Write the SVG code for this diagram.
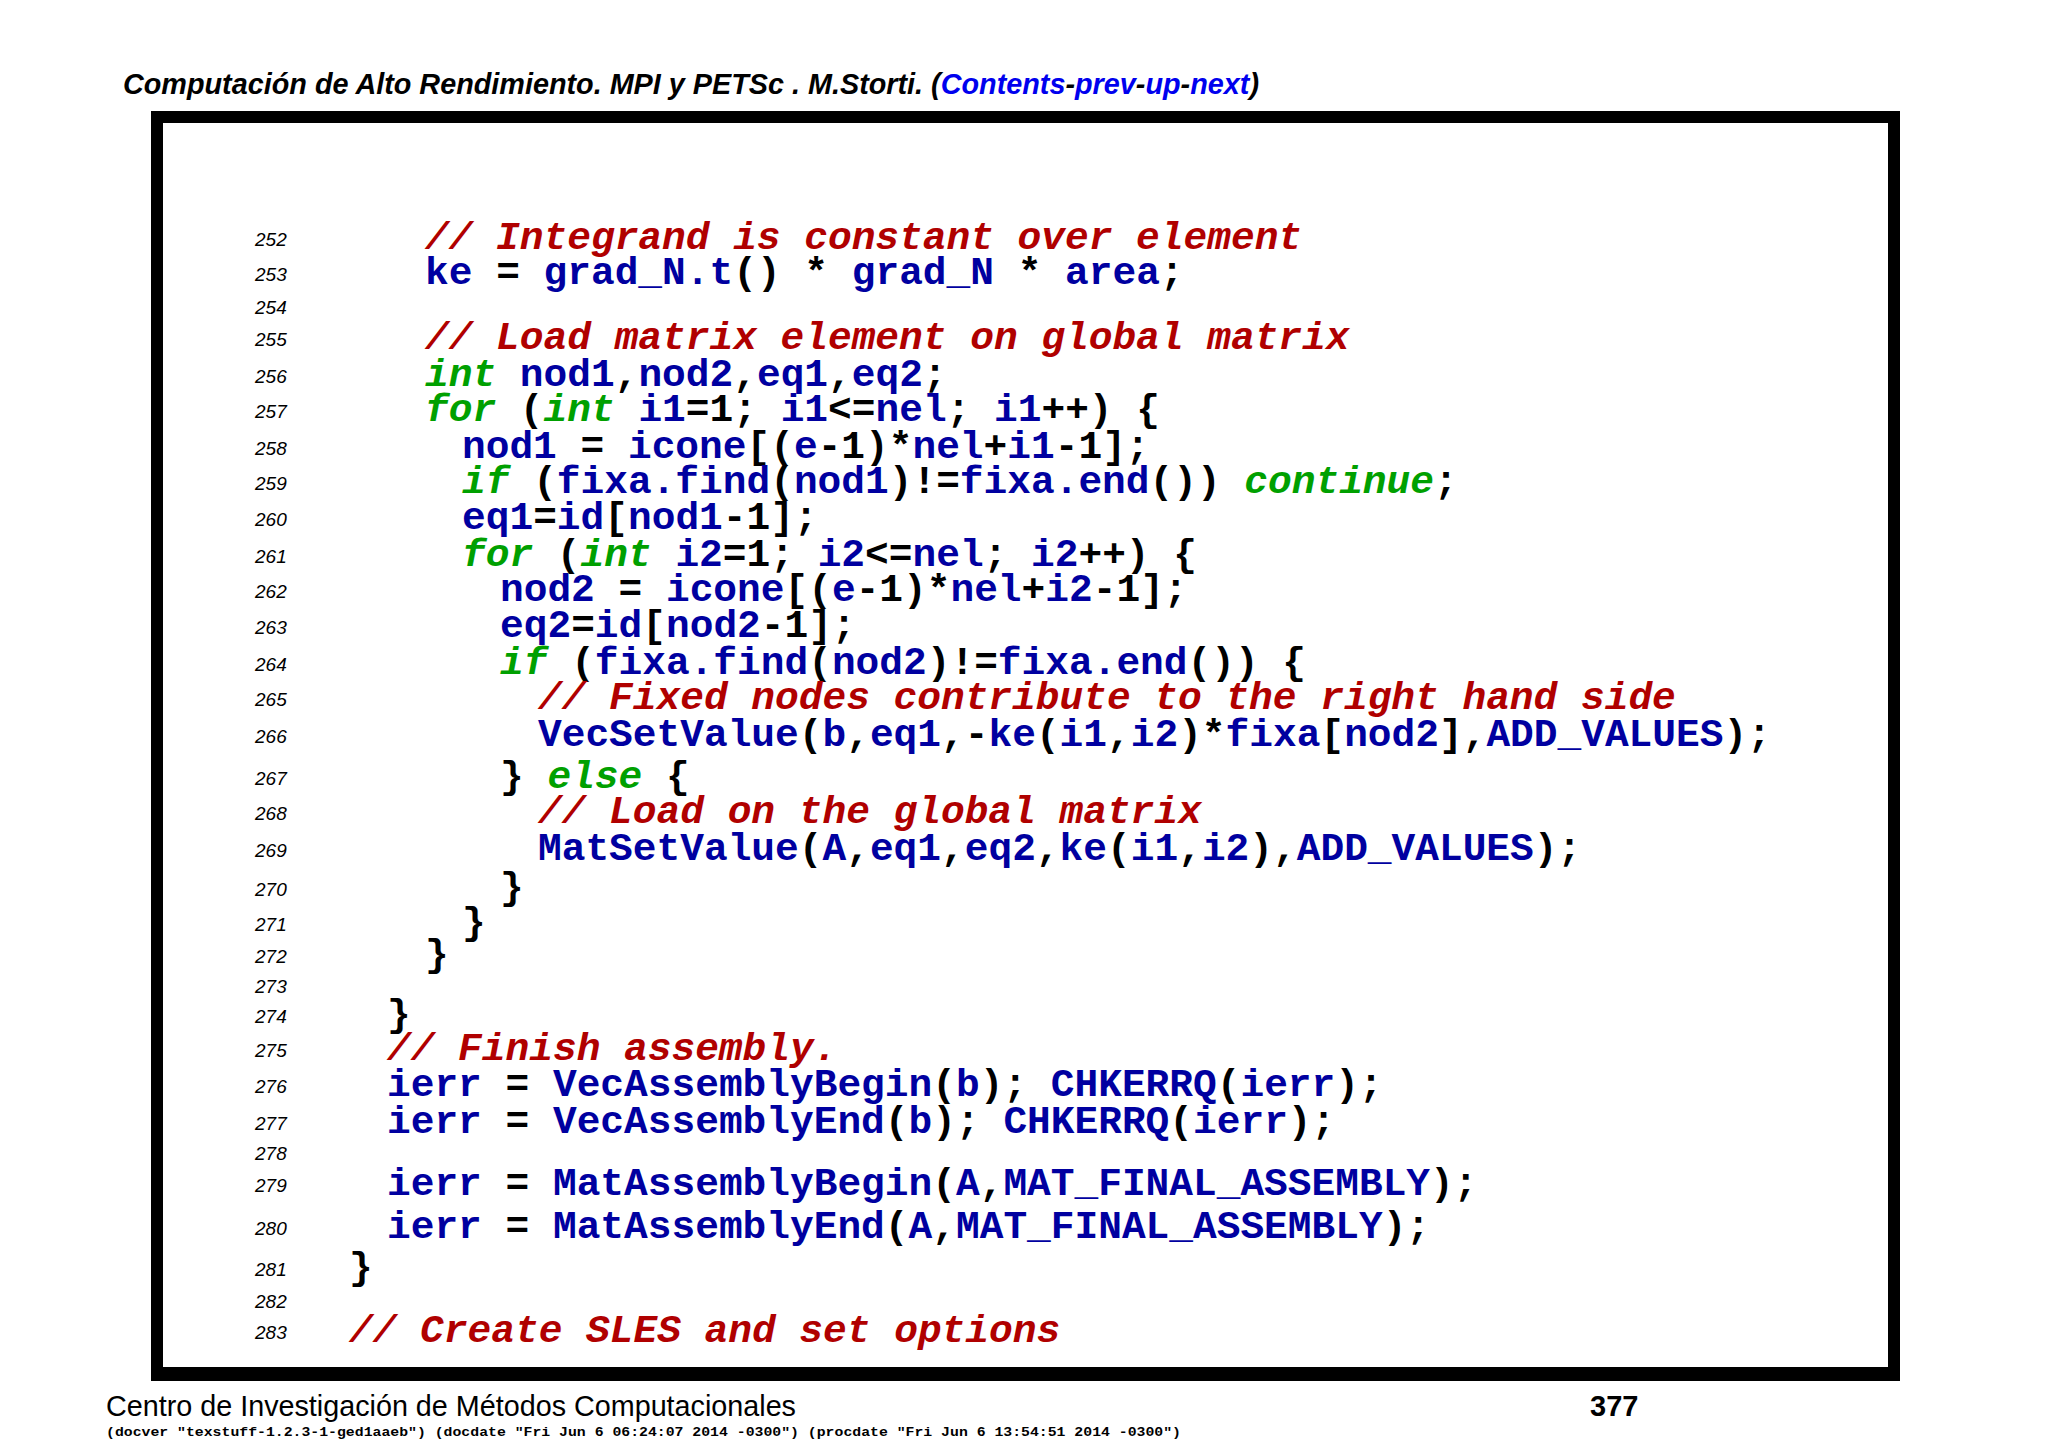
<svg xmlns="http://www.w3.org/2000/svg" width="2048" height="1448" viewBox="0 0 2048 1448">
<style>
.code{font-family:"Liberation Mono","DejaVu Sans Mono",monospace;font-size:39.5px;font-weight:bold;fill:#000;white-space:pre}
.c{fill:#b00000;font-style:italic}
.k{fill:#00a000;font-style:italic}
.v{fill:#0000a0}
.n{font-family:"Liberation Sans",Arial,sans-serif;font-size:19px;font-style:italic;fill:#000}
.hd{font-family:"Liberation Sans",Arial,sans-serif;font-size:29px;font-weight:bold;font-style:italic;fill:#000}
.b{fill:#0000ee}
</style>
<rect width="2048" height="1448" fill="#fff"/>
<g id="header"><text class="hd" x="123" y="94" textLength="1136" lengthAdjust="spacingAndGlyphs">Computación de Alto Rendimiento. MPI y PETSc . M.Storti. (<tspan class="b">Contents</tspan>-<tspan class="b">prev</tspan>-<tspan class="b">up</tspan>-<tspan class="b">next</tspan>)</text></g>
<g id="frame"><rect x="157" y="117" width="1737" height="1256" fill="none" stroke="#000" stroke-width="12"/><line x1="151" y1="1378" x2="1900" y2="1378" stroke="#000" stroke-width="6"/></g>
<g id="linenumbers">
<text class="n" x="255" y="246">252</text><text class="n" x="255" y="281">253</text><text class="n" x="255" y="314">254</text><text class="n" x="255" y="346">255</text><text class="n" x="255" y="383">256</text><text class="n" x="255" y="418">257</text><text class="n" x="255" y="455">258</text><text class="n" x="255" y="490">259</text><text class="n" x="255" y="526">260</text><text class="n" x="255" y="563">261</text><text class="n" x="255" y="598">262</text><text class="n" x="255" y="634">263</text><text class="n" x="255" y="671">264</text><text class="n" x="255" y="706">265</text><text class="n" x="255" y="743">266</text><text class="n" x="255" y="785">267</text><text class="n" x="255" y="820">268</text><text class="n" x="255" y="857">269</text><text class="n" x="255" y="896">270</text><text class="n" x="255" y="931">271</text><text class="n" x="255" y="963">272</text><text class="n" x="255" y="993">273</text><text class="n" x="255" y="1023">274</text><text class="n" x="255" y="1057">275</text><text class="n" x="255" y="1093">276</text><text class="n" x="255" y="1130">277</text><text class="n" x="255" y="1160">278</text><text class="n" x="255" y="1192">279</text><text class="n" x="255" y="1235">280</text><text class="n" x="255" y="1276">281</text><text class="n" x="255" y="1308">282</text><text class="n" x="255" y="1339">283</text>
</g>
<g id="code">
<text class="code" x="425" y="249"><tspan class="c">// Integrand is constant over element</tspan></text>
<text class="code" x="425" y="284"><tspan class="v">ke</tspan> = <tspan class="v">grad_N.t</tspan>() * <tspan class="v">grad_N</tspan> * <tspan class="v">area</tspan>;</text>
<text class="code" x="425" y="349"><tspan class="c">// Load matrix element on global matrix</tspan></text>
<text class="code" x="425" y="386"><tspan class="k">int</tspan> <tspan class="v">nod1</tspan>,<tspan class="v">nod2</tspan>,<tspan class="v">eq1</tspan>,<tspan class="v">eq2</tspan>;</text>
<text class="code" x="425" y="421"><tspan class="k">for</tspan> (<tspan class="k">int</tspan> <tspan class="v">i1</tspan>=1; <tspan class="v">i1</tspan>&lt;=<tspan class="v">nel</tspan>; <tspan class="v">i1</tspan>++) {</text>
<text class="code" x="462" y="458"><tspan class="v">nod1</tspan> = <tspan class="v">icone</tspan>[(<tspan class="v">e</tspan>-1)*<tspan class="v">nel</tspan>+<tspan class="v">i1</tspan>-1];</text>
<text class="code" x="462" y="493"><tspan class="k">if</tspan> (<tspan class="v">fixa.find</tspan>(<tspan class="v">nod1</tspan>)!=<tspan class="v">fixa.end</tspan>()) <tspan class="k">continue</tspan>;</text>
<text class="code" x="462" y="529"><tspan class="v">eq1</tspan>=<tspan class="v">id</tspan>[<tspan class="v">nod1</tspan>-1];</text>
<text class="code" x="462" y="566"><tspan class="k">for</tspan> (<tspan class="k">int</tspan> <tspan class="v">i2</tspan>=1; <tspan class="v">i2</tspan>&lt;=<tspan class="v">nel</tspan>; <tspan class="v">i2</tspan>++) {</text>
<text class="code" x="500" y="601"><tspan class="v">nod2</tspan> = <tspan class="v">icone</tspan>[(<tspan class="v">e</tspan>-1)*<tspan class="v">nel</tspan>+<tspan class="v">i2</tspan>-1];</text>
<text class="code" x="500" y="637"><tspan class="v">eq2</tspan>=<tspan class="v">id</tspan>[<tspan class="v">nod2</tspan>-1];</text>
<text class="code" x="500" y="674"><tspan class="k">if</tspan> (<tspan class="v">fixa.find</tspan>(<tspan class="v">nod2</tspan>)!=<tspan class="v">fixa.end</tspan>()) {</text>
<text class="code" x="538" y="709"><tspan class="c">// Fixed nodes contribute to the right hand side</tspan></text>
<text class="code" x="538" y="746"><tspan class="v">VecSetValue</tspan>(<tspan class="v">b</tspan>,<tspan class="v">eq1</tspan>,-<tspan class="v">ke</tspan>(<tspan class="v">i1</tspan>,<tspan class="v">i2</tspan>)*<tspan class="v">fixa</tspan>[<tspan class="v">nod2</tspan>],<tspan class="v">ADD_VALUES</tspan>);</text>
<text class="code" x="500" y="788">} <tspan class="k">else</tspan> {</text>
<text class="code" x="538" y="823"><tspan class="c">// Load on the global matrix</tspan></text>
<text class="code" x="538" y="860"><tspan class="v">MatSetValue</tspan>(<tspan class="v">A</tspan>,<tspan class="v">eq1</tspan>,<tspan class="v">eq2</tspan>,<tspan class="v">ke</tspan>(<tspan class="v">i1</tspan>,<tspan class="v">i2</tspan>),<tspan class="v">ADD_VALUES</tspan>);</text>
<text class="code" x="500" y="899">}</text>
<text class="code" x="462" y="934">}</text>
<text class="code" x="425" y="966">}</text>
<text class="code" x="387" y="1026">}</text>
<text class="code" x="387" y="1060"><tspan class="c">// Finish assembly.</tspan></text>
<text class="code" x="387" y="1096"><tspan class="v">ierr</tspan> = <tspan class="v">VecAssemblyBegin</tspan>(<tspan class="v">b</tspan>); <tspan class="v">CHKERRQ</tspan>(<tspan class="v">ierr</tspan>);</text>
<text class="code" x="387" y="1133"><tspan class="v">ierr</tspan> = <tspan class="v">VecAssemblyEnd</tspan>(<tspan class="v">b</tspan>); <tspan class="v">CHKERRQ</tspan>(<tspan class="v">ierr</tspan>);</text>
<text class="code" x="387" y="1195"><tspan class="v">ierr</tspan> = <tspan class="v">MatAssemblyBegin</tspan>(<tspan class="v">A</tspan>,<tspan class="v">MAT_FINAL_ASSEMBLY</tspan>);</text>
<text class="code" x="387" y="1238"><tspan class="v">ierr</tspan> = <tspan class="v">MatAssemblyEnd</tspan>(<tspan class="v">A</tspan>,<tspan class="v">MAT_FINAL_ASSEMBLY</tspan>);</text>
<text class="code" x="349" y="1279">}</text>
<text class="code" x="349" y="1342"><tspan class="c">// Create SLES and set options</tspan></text>
</g>
<g id="footer">
<text x="106" y="1416" font-family="Liberation Sans,Arial,sans-serif" font-size="29" textLength="690" lengthAdjust="spacingAndGlyphs">Centro de Investigación de Métodos Computacionales</text>
<text x="1590" y="1416" font-family="Liberation Sans,Arial,sans-serif" font-size="29" font-weight="bold">377</text>
<text x="106" y="1436" font-family="Liberation Mono,monospace" font-size="13" font-weight="bold" textLength="1075" lengthAdjust="spacingAndGlyphs">(docver "texstuff-1.2.3-1-ged1aaeb") (docdate "Fri Jun 6 06:24:07 2014 -0300") (procdate "Fri Jun 6 13:54:51 2014 -0300")</text>
</g>
</svg>
